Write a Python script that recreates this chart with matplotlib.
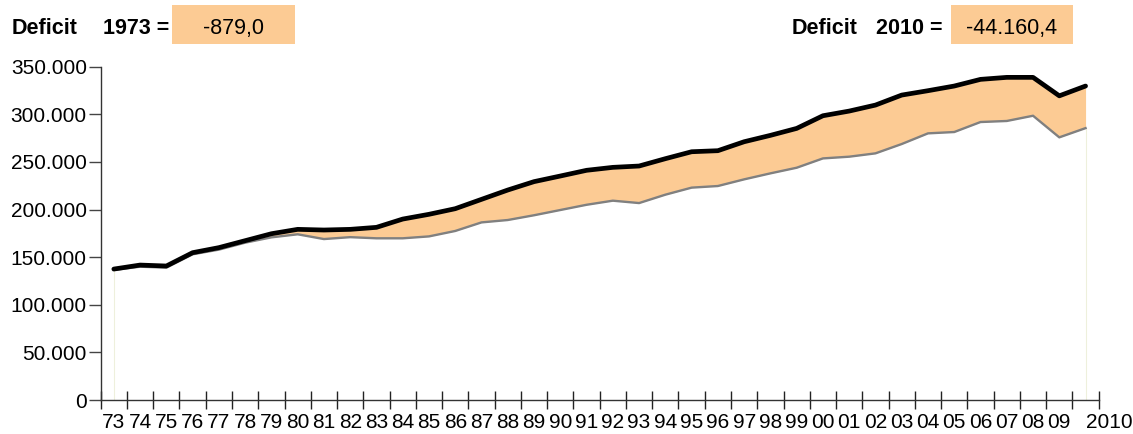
import matplotlib
matplotlib.use("Agg")
import matplotlib.pyplot as plt
from matplotlib.patches import Rectangle
from matplotlib.ticker import FuncFormatter

plt.rcParams['font.family'] = ['Liberation Sans', 'DejaVu Sans']

# years shown on the axis
years = ['73', '74', '75', '76', '77', '78', '79', '80', '81', '82', '83', '84',
         '85', '86', '87', '88', '89', '90', '91', '92', '93', '94', '95', '96',
         '97', '98', '99', '00', '01', '02', '03', '04', '05', '06', '07', '08',
         '09', '2010']

# upper (black) series, thousands
spending = [137.5, 141.7, 140.7, 154.7, 160.0, 167.3, 174.6, 179.2, 178.5, 179.2,
            181.3, 190.0, 195.0, 200.9, 210.7, 220.5, 229.3, 235.2, 241.2, 244.3,
            245.7, 253.4, 260.7, 261.8, 271.2, 277.9, 285.2, 298.5, 303.4, 309.7,
            320.2, 324.8, 329.7, 336.7, 338.8, 338.8, 319.4, 329.7]

# lower (grey) series, thousands
revenue = [136.6, 140.0, 139.0, 153.0, 157.9, 165.2, 170.8, 174.0, 169.0, 171.0,
           169.8, 169.8, 171.8, 177.5, 186.5, 189.0, 194.0, 199.5, 205.0, 209.3,
           206.8, 215.6, 223.0, 224.7, 231.7, 238.0, 243.9, 253.7, 255.5, 259.0,
           268.8, 280.0, 281.4, 291.9, 293.0, 298.5, 275.8, 285.5]

header_left = ('Deficit', '1973 =', '-879,0')
header_right = ('Deficit', '2010 =', '-44.160,4')

W, H = 1133, 434
fig = plt.figure(figsize=(W / 100, H / 100), dpi=100)
ax = fig.add_axes([100.7 / W, 1 - 400 / H, (1098.7 - 100.7) / W, (400 - 66.7) / H])

x = list(range(len(years)))
top = [v * 1000 for v in spending]
low = [v * 1000 for v in revenue]

orange = '#fccb94'
ax.fill_between(x, low, top, color=orange, lw=0, zorder=1)
ax.plot(x, low, color='#808080', lw=1.7, zorder=2, solid_joinstyle='round')
ax.plot(x, top, color='black', lw=3.4, zorder=3, solid_joinstyle='round',
        solid_capstyle='round')
# faint edges of the area at both ends
ax.vlines([x[0], x[-1]], 0, [low[0], low[-1]], color='#eef0dc', lw=0.8, zorder=0)

ax.set_xlim(-0.5, len(years) - 0.5)
ax.set_ylim(0, 350000)
ax.set_yticks(range(0, 350001, 50000))
ax.yaxis.set_major_formatter(FuncFormatter(lambda v, p: f'{int(v):,}'.replace(',', '.')))

# ticks on category boundaries, labels in between
ax.set_xticks([i - 0.5 for i in range(len(years) + 1)])
ax.set_xticklabels([])
ax.set_xticks(x, years, minor=True)
ax.tick_params(axis='x', which='major', direction='inout', length=13, width=1,
               color='#222222')
ax.tick_params(axis='x', which='minor', length=0, pad=9.5, labelsize=15)
ax.tick_params(axis='y', direction='out', length=9, width=1, color='#444444',
               pad=1, labelsize=15)
ax.get_xticklabels(minor=True)[-1].set_ha('left')

for s in ['top', 'right']:
    ax.spines[s].set_visible(False)
for s in ['left', 'bottom']:
    ax.spines[s].set_color('#333333')
    ax.spines[s].set_linewidth(1)

# header with boxed values
base = 1 - 34 / H
fig.text(12 / W, base, header_left[0], fontsize=15.5, fontweight='bold', va='baseline')
fig.text(103 / W, base, header_left[1], fontsize=15.5, fontweight='bold', va='baseline')
fig.patches.append(Rectangle((172 / W, 1 - 44 / H), 123 / W, 39 / H,
                             transform=fig.transFigure, color=orange, lw=0))
fig.text(233.5 / W, base, header_left[2], fontsize=15.5, ha='center', va='baseline')

fig.text(792 / W, base, header_right[0], fontsize=15.5, fontweight='bold', va='baseline')
fig.text(876 / W, base, header_right[1], fontsize=15.5, fontweight='bold', va='baseline')
fig.patches.append(Rectangle((951 / W, 1 - 44 / H), 122 / W, 39 / H,
                             transform=fig.transFigure, color=orange, lw=0))
fig.text(1012 / W, base, header_right[2], fontsize=15.5, ha='center', va='baseline')

fig.savefig('out.png', dpi=100)
